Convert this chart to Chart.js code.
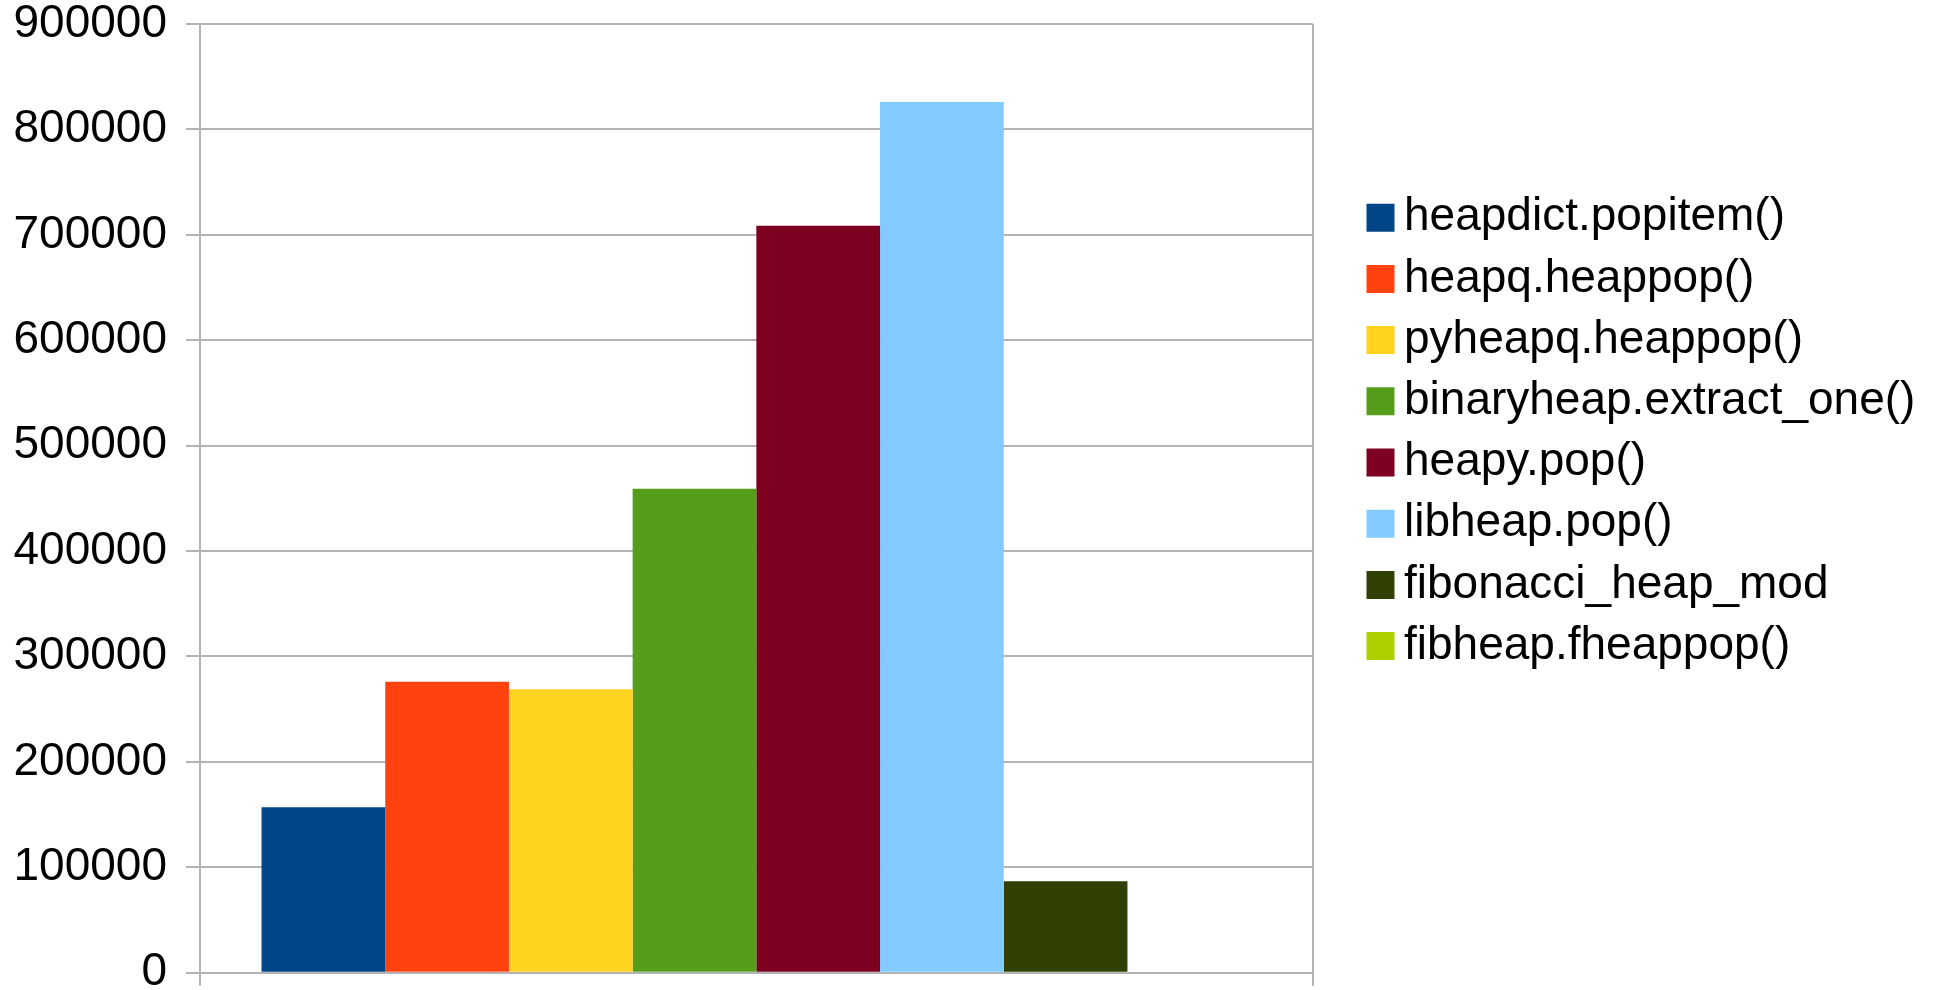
<!DOCTYPE html>
<html>
<head>
<meta charset="utf-8">
<title>Heap pop throughput</title>
<script src="https://cdn.jsdelivr.net/npm/chart.js@4/dist/chart.umd.min.js"></script>
<style>
  html, body { margin: 0; padding: 0; background: #ffffff; }
  #wrap { width: 1938px; height: 990px; }
</style>
</head>
<body>
<div id="wrap"><canvas id="chart" width="1938" height="990"></canvas></div>
<script>
// One unnamed category holding one bar per heap implementation.
const categories = [''];
const seriesNames = [
  'heapdict.popitem()',
  'heapq.heappop()',
  'pyheapq.heappop()',
  'binaryheap.extract_one()',
  'heapy.pop()',
  'libheap.pop()',
  'fibonacci_heap_mod',
  'fibheap.fheappop()'
];
const seriesValues = [157000, 276000, 269000, 459000, 708500, 826000, 86700, null];
const seriesColors = ['#004586', '#ff420e', '#ffd320', '#579d1c', '#7e0021', '#83caff', '#314004', '#aecf00'];
const yMin = 0;
const yMax = 900000;
const yStep = 100000;

const gridColor = '#b3b3b3';

// Keeps the legend column a little away from the plot frame.
const legendPlacement = {
  id: 'legendPlacement',
  afterLayout(chart) {
    const lg = chart.legend;
    if (!lg) return;
    const dx = 1364.8 - lg.left;
    lg.left += dx; lg.right += dx;
    const dy = 179.5 - lg.top;
    lg.top += dy; lg.bottom += dy;
  }
};

Chart.defaults.font.family = "'Liberation Sans', Arial, Helvetica, sans-serif";
Chart.defaults.color = '#000000';

new Chart(document.getElementById('chart'), {
  type: 'bar',
  data: {
    labels: categories,
    datasets: seriesNames.map((name, i) => ({
      label: name,
      data: [seriesValues[i]],
      backgroundColor: seriesColors[i],
      borderWidth: 0
    }))
  },
  options: {
    responsive: false,
    animation: false,
    devicePixelRatio: 1,
    layout: { padding: { top: 24, left: 13.5, right: 64.7, bottom: 4.3 } },
    datasets: { bar: { barPercentage: 1, categoryPercentage: 0.8894 } },
    scales: {
      x: {
        ticks: { display: false },
        grid: { color: gridColor, lineWidth: 2, tickLength: 13, offset: true, drawTicks: true },
        border: { display: true, color: gridColor, width: 2 }
      },
      y: {
        min: yMin,
        max: yMax,
        ticks: {
          stepSize: yStep,
          padding: 19,
          color: '#000000',
          font: { size: 46 },
          callback: (v) => String(v)
        },
        grid: { color: gridColor, lineWidth: 2, tickLength: 14 },
        border: { display: true, color: gridColor, width: 2 },
        afterFit(scale) {
          // the outer tick labels may hang into the page margins
          scale.paddingTop = 0;
          scale.paddingBottom = 0;
          // axis box = tick mark + gap + widest label
          scale.width -= scale.options.ticks.padding;
        }
      }
    },
    plugins: {
      tooltip: { enabled: false },
      legend: {
        position: 'right',
        align: 'start',
        maxWidth: 800,
        labels: {
          color: '#000000',
          font: { size: 46 },
          usePointStyle: true,
          pointStyle: 'rect',
          boxWidth: 1,
          boxHeight: 28,
          padding: 15.2
        }
      }
    }
  },
  plugins: [legendPlacement]
});
</script>
</body>
</html>
